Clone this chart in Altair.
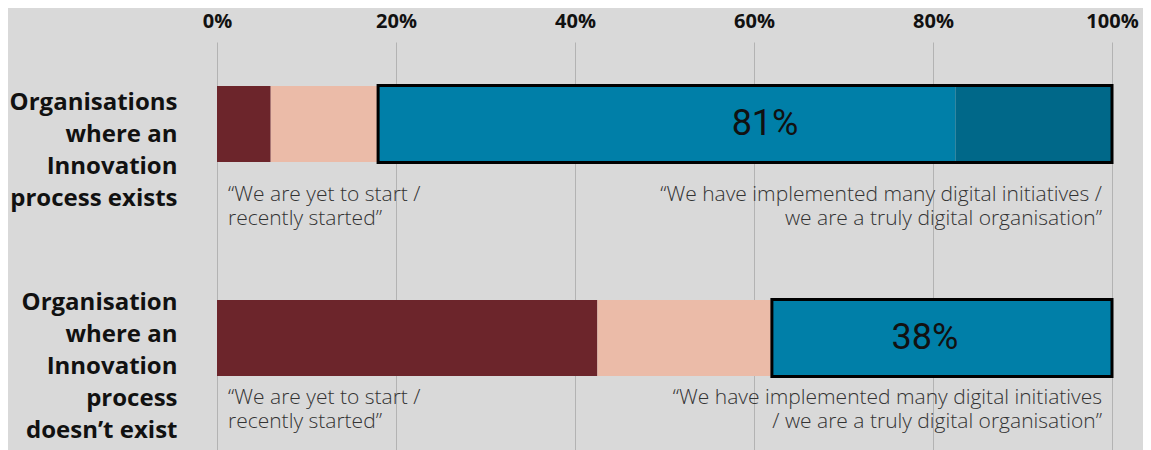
import altair as alt
import pandas as pd

# ---- data ----
rows = [
    "Organisations|where an|Innovation|process exists",
    "Organisation|where an|Innovation|process|doesn’t exist",
]
segments = ["Yet to start", "Recently started", "Implemented many", "Truly digital"]
seg_colors = ["#6c252b", "#ebbba8", "#007fa8", "#006889"]
row1_values = [6, 12, 64.5, 17.5]
row2_values = [42.5, 19.5, 38, 0]
digital_labels = ["81%", "38%"]
left_quotes = [
    "“We are yet to start /\nrecently started”",
    "“We are yet to start /\nrecently started”",
]
right_quotes = [
    "“We have implemented many digital initiatives /\nwe are a truly digital organisation”",
    "“We have implemented many digital initiatives\n/ we are a truly digital organisation”",
]
x_ticks = [0, 20, 40, 60, 80, 100]

# ---- tables built from the arrays ----
seg_records = []
outline_records = []
for r, vals, lab in zip(rows, [row1_values, row2_values], digital_labels):
    start = 0.0
    for s, v in zip(segments, vals):
        seg_records.append({"row": r, "segment": s, "start": start, "end": start + v})
        start += v
    o_start = vals[0] + vals[1]
    o_end = sum(vals)
    outline_records.append(
        {"row": r, "start": o_start, "end": o_end, "label": lab, "mid": (o_start + o_end) / 2}
    )
seg_df = pd.DataFrame(seg_records)
outline_df = pd.DataFrame(outline_records)

ann_df = pd.DataFrame({
    "row": rows,
    "left": [x_ticks[0]] * 2,
    "right": [x_ticks[-1]] * 2,
    "ltext": left_quotes,
    "rtext": right_quotes,
})

PLOT_H = 408
# band layout (align=0): bands start at the top of the plot area
step = 214
band_w = 164
p_inner = 1 - band_w / step
p_outer = (PLOT_H / step - 2 + p_inner) / 2

y_enc = alt.Y(
    "row:N",
    sort=rows,
    scale=alt.Scale(paddingInner=p_inner, paddingOuter=p_outer, align=0),
    axis=alt.Axis(
        title=None,
        labelExpr="split(datum.label, '|')",
        labelFont="Open Sans",
        labelFontSize=24,
        labelFontWeight="bold",
        labelColor="#111111",
        labelLineHeight=32,
        labelAlign="right",
        labelBaseline="middle",
        labelPadding=40,
        labelOffset={
            "condition": {"test": "indexof(datum.value, 'doesn') >= 0", "value": -35},
            "value": -21,
        },
        labelLimit=400,
        ticks=False,
        domain=False,
        grid=False,
    ),
)

x_scale = alt.Scale(domain=[0, 100], nice=False, zero=True)

bars = alt.Chart(seg_df).mark_bar(size=76).encode(
    x=alt.X(
        "start:Q",
        scale=x_scale,
        axis=alt.Axis(
            title=None,
            orient="top",
            values=x_ticks,
            labelExpr="datum.value + '%'",
            grid=True,
            gridColor="#b3b3b3",
            gridWidth=1,
            ticks=False,
            domain=False,
            labelFlush=False,
            labelFont="Open Sans",
            labelFontSize=20,
            labelFontWeight="bold",
            labelColor="#111111",
            labelPadding=11,
        ),
    ),
    x2="end:Q",
    y=y_enc,
    color=alt.Color(
        "segment:N",
        scale=alt.Scale(domain=segments, range=seg_colors),
        legend=None,
    ),
)

outline = alt.Chart(outline_df).mark_bar(
    size=77, fillOpacity=0, stroke="#000000", strokeWidth=3
).encode(x=alt.X("start:Q", scale=x_scale), x2="end:Q", y=alt.Y("row:N", sort=rows))

layers = [bars, outline]

label_dx = [20, -17]
ann_dy = [71, 60]
for i, r in enumerate(rows):
    sub_o = outline_df[outline_df["row"] == r]
    sub_a = ann_df[ann_df["row"] == r]
    layers.append(
        alt.Chart(sub_o).mark_text(
            font="Roboto", fontSize=36, color="#111111", dx=label_dx[i], baseline="middle"
        ).encode(x=alt.X("mid:Q", scale=x_scale), y=alt.Y("row:N", sort=rows), text="label:N")
    )
    layers.append(
        alt.Chart(sub_a).mark_text(
            font="Open Sans", fontSize=21, fontWeight=300, color="#333333",
            align="left", baseline="middle", dx=11, dy=ann_dy[i],
            lineBreak="\n", lineHeight=24,
        ).encode(x=alt.X("left:Q", scale=x_scale), y=alt.Y("row:N", sort=rows), text="ltext:N")
    )
    layers.append(
        alt.Chart(sub_a).mark_text(
            font="Open Sans", fontSize=21, fontWeight=300, color="#333333",
            align="right", baseline="middle", dx=-10, dy=ann_dy[i],
            lineBreak="\n", lineHeight=24,
        ).encode(x=alt.X("right:Q", scale=x_scale), y=alt.Y("row:N", sort=rows), text="rtext:N")
    )

chart = alt.layer(*layers).properties(
    width=895,
    height=PLOT_H,
    autosize="none",
    padding={"left": 209, "top": 34, "right": 31, "bottom": 0},
    background="#d9d9d9",
).configure_view(strokeWidth=0)

chart.save("out.html", embed_options={"renderer": "svg", "actions": False})
